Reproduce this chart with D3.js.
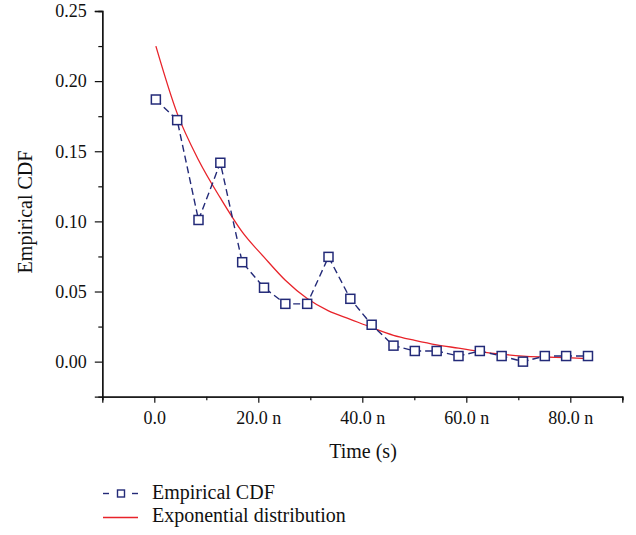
<!DOCTYPE html>
<html>
<head>
<meta charset="utf-8">
<script src="https://cdn.jsdelivr.net/npm/d3@7"></script>
<style>
  body { margin: 0; background: #fff; }
  svg text { font-family: 'Liberation Serif', 'Times New Roman', serif; fill: #111; }
</style>
</head>
<body>
<div id="chart"></div>
<script>
// time in ns for each bin
const timeNs = [0.3, 4.4, 8.5, 12.7, 16.9, 21.1, 25.2, 29.4, 33.5, 37.7, 41.8,
  46.0, 50.1, 54.3, 58.5, 62.6, 66.8, 70.9, 75.1, 79.2, 83.4];
const empirical = [0.1869, 0.1722, 0.1010, 0.1418, 0.0709, 0.0527, 0.0412, 0.0412,
  0.0747, 0.0448, 0.0263, 0.0114, 0.0076, 0.0076, 0.0040, 0.0076, 0.0040, 0.0,
  0.0040, 0.0040, 0.0040];
const exponential = [0.2250, 0.1770, 0.1438, 0.1167, 0.0925, 0.0745, 0.0580, 0.0450,
  0.0362, 0.0302, 0.0243, 0.0188, 0.0152, 0.0120, 0.0096, 0.0072, 0.0053, 0.0040,
  0.0033, 0.0028, 0.0021];
const xTicks = [0, 20, 40, 60, 80];
const xMinor = [-10, 10, 30, 50, 70, 90];
const yTicks = [0, 0.05, 0.10, 0.15, 0.20, 0.25];
const yMinor = [0.025, 0.075, 0.125, 0.175, 0.225];

const width = 636, height = 535;
const navy = "#232a78", red = "#e8232a";
const serif = "'Liberation Serif', 'Times New Roman', serif";

const svg = d3.select("#chart").append("svg")
  .attr("width", width)
  .attr("height", height);

const x = d3.scaleLinear().domain([-10, 90]).range([102.3, 622.3]);
const y = d3.scaleLinear().domain([-0.025, 0.25]).range([396.7, 11]);

// axes
svg.append("g")
  .attr("transform", "translate(0," + y(-0.025) + ")")
  .call(d3.axisBottom(x).tickValues(xTicks).tickSize(6).tickPadding(9)
    .tickFormat(d => d === 0 ? "0.0" : d.toFixed(1) + " n"));
svg.append("g")
  .attr("transform", "translate(0," + y(-0.025) + ")")
  .call(d3.axisBottom(x).tickValues(xMinor).tickSize(3.5).tickFormat(""));

svg.append("g")
  .attr("transform", "translate(" + x(-10) + ",0)")
  .call(d3.axisLeft(y).tickValues(yTicks).tickSize(7.5).tickPadding(8)
    .tickFormat(d3.format(".2f")));
svg.append("g")
  .attr("transform", "translate(" + x(-10) + ",0)")
  .call(d3.axisLeft(y).tickValues(yMinor).tickSize(4).tickFormat(""));

svg.selectAll("g").attr("font-family", serif).attr("font-size", 18);
svg.selectAll(".domain").attr("stroke", "#111").attr("stroke-width", 1.3);
svg.selectAll(".tick line").attr("stroke", "#111").attr("stroke-width", 1.2);
svg.selectAll(".tick text").attr("fill", "#111");

// axis titles
svg.append("text")
  .attr("x", 363).attr("y", 458)
  .attr("text-anchor", "middle")
  .attr("font-size", 20)
  .text("Time (s)");
svg.append("text")
  .attr("transform", "translate(32,212) rotate(-90)")
  .attr("text-anchor", "middle")
  .attr("font-size", 20)
  .text("Empirical CDF");

const rows = timeNs.map((t, i) => ({ t: t, e: empirical[i], f: exponential[i] }));

// fitted exponential
svg.append("path")
  .datum(rows)
  .attr("fill", "none")
  .attr("stroke", red)
  .attr("stroke-width", 1.3)
  .attr("d", d3.line().curve(d3.curveMonotoneX).x(d => x(d.t)).y(d => y(d.f)));

// empirical CDF dashed with square markers
svg.append("path")
  .datum(rows)
  .attr("fill", "none")
  .attr("stroke", navy)
  .attr("stroke-width", 1.4)
  .attr("stroke-dasharray", "7,4")
  .attr("d", d3.line().x(d => x(d.t)).y(d => y(d.e)));

const sq = 9;
svg.selectAll("rect.pt")
  .data(rows)
  .enter().append("rect")
  .attr("class", "pt")
  .attr("x", d => x(d.t) - sq / 2)
  .attr("y", d => y(d.e) - sq / 2)
  .attr("width", sq).attr("height", sq)
  .attr("fill", "#fff")
  .attr("stroke", navy)
  .attr("stroke-width", 1.5);

// legend
const lg = svg.append("g");
lg.append("line").attr("x1", 103).attr("x2", 109).attr("y1", 493.5).attr("y2", 493.5)
  .attr("stroke", navy).attr("stroke-width", 1.4);
lg.append("line").attr("x1", 132).attr("x2", 138).attr("y1", 493.5).attr("y2", 493.5)
  .attr("stroke", navy).attr("stroke-width", 1.4);
lg.append("rect").attr("x", 117.5).attr("y", 490).attr("width", 7).attr("height", 7)
  .attr("fill", "#fff").attr("stroke", navy).attr("stroke-width", 1.4);
lg.append("text").attr("x", 152).attr("y", 499).attr("font-size", 20).text("Empirical CDF");
lg.append("line").attr("x1", 103).attr("x2", 138).attr("y1", 517.5).attr("y2", 517.5)
  .attr("stroke", red).attr("stroke-width", 1.3);
lg.append("text").attr("x", 152).attr("y", 522).attr("font-size", 20).text("Exponential distribution");
</script>
</body>
</html>
